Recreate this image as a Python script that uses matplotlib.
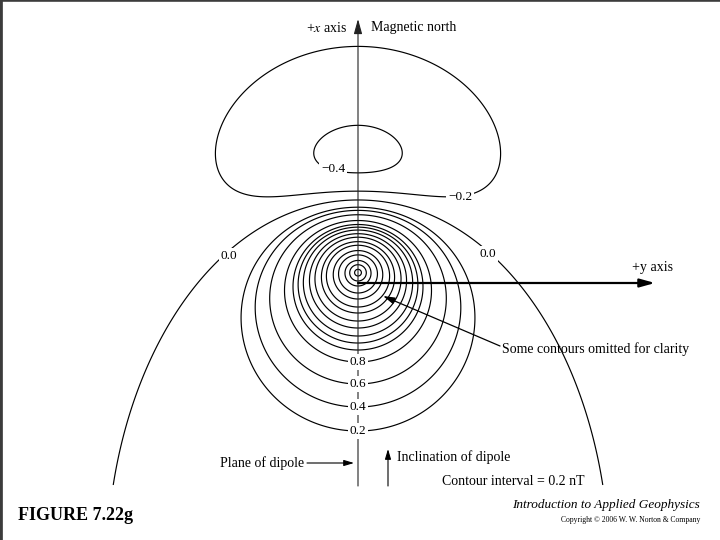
import numpy as np
import matplotlib
matplotlib.use("Agg")
import matplotlib.pyplot as plt
from matplotlib.lines import Line2D

plt.rcParams['font.family'] = ['Liberation Serif', 'DejaVu Serif']
plt.rcParams['mathtext.fontset'] = 'stix'

# Two-pole (finite dipole) model, parameters fitted to contour positions
# lengths in units of 10 px, angles in degrees
field_incl = 56.55       # inclination of the inducing field
dipole_incl = 71.12      # inclination of the dipole axis
top_depth = 5.582        # depth of upper pole
dipole_len = 13.674      # pole separation
top_north = 2.181        # north offset of upper pole from the axes origin
strength = 192.98        # pole strength scale

# contour levels (nT) drawn as-is
neg_levels = [-0.4, -0.2]
zero_level = [0.0]
ring_south_py = [431, 407, 384, 362, 350, 343, 336, 328, 321, 313, 307, 299, 293, 286, 281, 276]
axis_labels = ['0.2', '0.4', '0.6', '0.8']


def field(e, n):
    cf, sf = np.cos(np.radians(field_incl)), np.sin(np.radians(field_incl))
    cm, sm = np.cos(np.radians(dipole_incl)), np.sin(np.radians(dipole_incl))
    n2 = top_north + dipole_len * cm
    h2 = top_depth + dipole_len * sm

    def pole(n0, h):
        u = n - n0
        r2 = u * u + e * e + h * h
        return (h * sf - u * cf) / r2 ** 1.5
    return strength * (pole(top_north, top_depth) - pole(n2, h2))


def X(px):
    return (px - 358) / 10.0


def Y(py):
    return (283 - py) / 10.0


ge = np.linspace(X(68), X(652), 900)
gn = np.linspace(Y(485), Y(30), 800)
GE, GN = np.meshgrid(ge, gn)
F = field(GE, GN)

pos_levels = [float(field(0.0, Y(py))) for py in ring_south_py]

fig = plt.figure(figsize=(7.2, 5.4), dpi=100)
ax = fig.add_axes([0, 0, 1, 1])
ax.set_xlim(X(0), X(720))
ax.set_ylim(Y(540), Y(0))
ax.axis('off')

levels = sorted(neg_levels + zero_level + pos_levels)
ax.contour(GE, GN, F, levels=levels, colors='black', linewidths=0.85,
           negative_linestyles='solid', zorder=2)

# vertical (+x) axis with arrow
ax.annotate('', xy=(0, Y(19)), xytext=(0, Y(486)),
            arrowprops=dict(arrowstyle='-|>,head_length=0.9,head_width=0.25', lw=0.8,
                            color='#222222', shrinkA=0, shrinkB=0), zorder=3)
# horizontal (+y) axis with arrow
ax.annotate('', xy=(X(655), 0), xytext=(0, 0),
            arrowprops=dict(arrowstyle='-|>,head_length=0.9,head_width=0.25', lw=1.6,
                            color='black', shrinkA=0, shrinkB=0), zorder=3)
# pointer to omitted contours
ax.annotate('', xy=(X(383), Y(296)), xytext=(X(500), Y(346)),
            arrowprops=dict(arrowstyle='-|>,head_length=0.7,head_width=0.2', lw=0.9,
                            color='black', shrinkA=0, shrinkB=0), zorder=3)
# plane of dipole arrow
ax.annotate('', xy=(X(354), Y(463)), xytext=(X(307), Y(463)),
            arrowprops=dict(arrowstyle='-|>,head_length=0.6,head_width=0.18', lw=0.8,
                            color='black', shrinkA=0, shrinkB=0), zorder=3)
# inclination of dipole arrow
ax.annotate('', xy=(X(388), Y(449)), xytext=(X(388), Y(486)),
            arrowprops=dict(arrowstyle='-|>,head_length=0.6,head_width=0.18', lw=0.8,
                            color='black', shrinkA=0, shrinkB=0), zorder=3)

# contour labels
lab_style = dict(fontsize=9.5, ha='center', va='center', zorder=5,
                 bbox=dict(boxstyle='square,pad=0.12', fc='white', ec='none'))
for lab, py in zip(axis_labels, ring_south_py):
    ax.text(0, Y(py), lab, **lab_style)
ax.text(X(333), Y(169), '\u22120.4', **lab_style)
ax.text(X(460), Y(197), '\u22120.2', **lab_style)
ax.text(X(229), Y(256), '0.0', **lab_style)
ax.text(X(488), Y(254), '0.0', **lab_style)

txt = dict(fontsize=10, va='center', color='black', zorder=5)
ax.text(X(347), Y(28), '+$x$ axis', ha='right', **txt)
ax.text(X(371), Y(27), 'Magnetic north', ha='left', **txt)
ax.text(X(632), Y(267), '+y axis', ha='left', **txt)
ax.text(X(502), Y(349), 'Some contours omitted for clarity', ha='left', **txt)
ax.text(X(220), Y(463), 'Plane of dipole', ha='left', **txt)
ax.text(X(397), Y(457), 'Inclination of dipole', ha='left', **txt)
ax.text(X(442), Y(481), 'Contour interval = 0.2 nT', ha='left', **txt)
ax.text(X(18), Y(516), 'FIGURE 7.22g', ha='left', va='center', fontsize=13,
        fontweight='bold', zorder=5)
ax.text(X(700), Y(505), 'Introduction to Applied Geophysics', ha='right', va='center',
        fontsize=9.5, style='italic', zorder=5)
ax.text(X(700), Y(520), 'Copyright \u00a9 2006 W. W. Norton & Company', ha='right',
        va='center', fontsize=5.5, zorder=5)

# slide frame (top and left edges)
fig.add_artist(Line2D([0, 1], [1, 1], transform=fig.transFigure, lw=2.6, color='#3c3c3c'))
fig.add_artist(Line2D([0, 0], [0, 1], transform=fig.transFigure, lw=3.4, color='#3c3c3c'))

fig.savefig('out.png', dpi=100)
